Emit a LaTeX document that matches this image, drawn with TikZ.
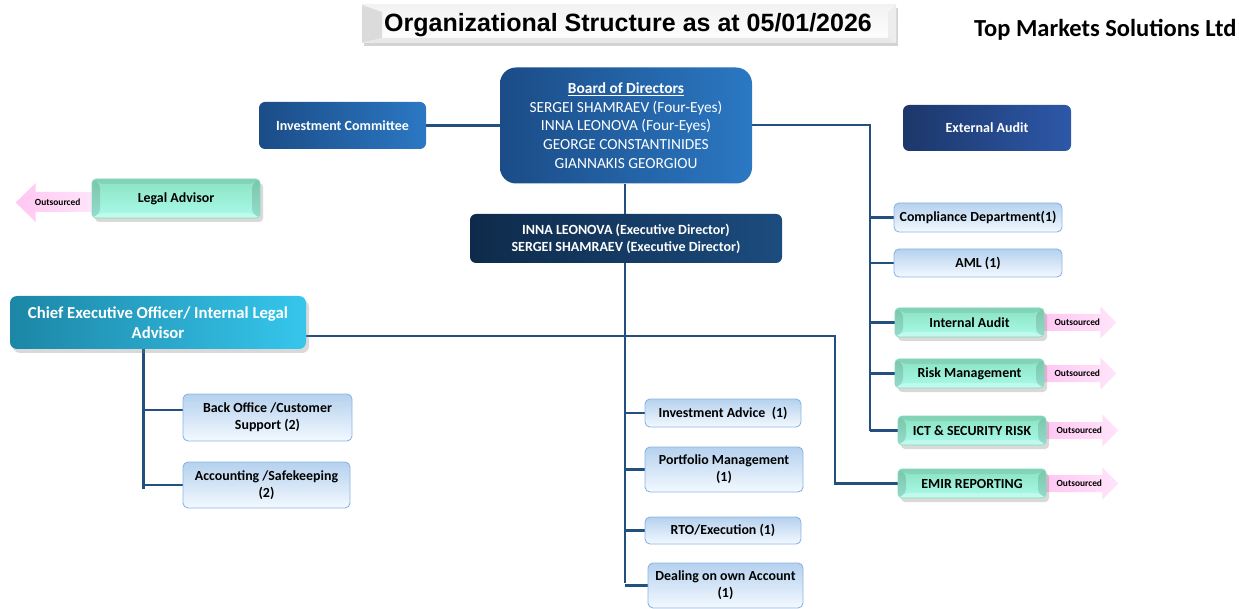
\documentclass[tikz,border=0pt]{standalone}
\usepackage{fontspec}
\setmainfont{Carlito}
\newfontfamily\arialfont{Liberation Sans}
\usetikzlibrary{shadows,calc}
\pgfdeclarelayer{bg}
\pgfsetlayers{bg,main}
\definecolor{linec}{HTML}{24507F}
\definecolor{boardA}{HTML}{1B4C87}
\definecolor{boardB}{HTML}{2B78C3}
\definecolor{extA}{HTML}{1C376A}
\definecolor{extB}{HTML}{2D58A8}
\definecolor{execA}{HTML}{0E2A4A}
\definecolor{execB}{HTML}{1C4C7E}
\definecolor{ceoA}{HTML}{1C86A6}
\definecolor{ceoB}{HTML}{36C6EC}
\definecolor{lightA}{HTML}{B5D1EE}
\definecolor{lightB}{HTML}{F3F9FF}
\definecolor{lightD}{HTML}{8CB4E2}
\definecolor{greenA}{HTML}{8BE2C2}
\definecolor{greenB}{HTML}{AAFBEA}
\definecolor{greenD}{HTML}{86D8BA}
\definecolor{pinkA}{HTML}{FFC6F2}
\definecolor{pinkB}{HTML}{FFE4FA}
\begin{document}
\begin{tikzpicture}[x=1pt,y=-1pt,
  conn/.style={draw=linec,line width=2.5pt},
  darkbox/.style={rounded corners=6pt,text=white,font=\bfseries\fontsize{14}{17}\selectfont,align=center,inner sep=0pt},
  lightbox/.style={rounded corners=5pt,draw=lightD,line width=0.9pt,top color=lightA,bottom color=lightB,
     font=\bfseries\fontsize{13.9}{17}\selectfont,align=center,inner sep=0pt},
  bevel/.style={path picture={
     \coordinate (pNW) at (path picture bounding box.north west);
     \coordinate (pNE) at (path picture bounding box.north east);
     \coordinate (pSW) at (path picture bounding box.south west);
     \coordinate (pSE) at (path picture bounding box.south east);
     \fill[black,opacity=0.07] (pNW) -- (pNE) -- ($(pNE)+(-#1,-5pt)$) -- ($(pNW)+(#1,-5pt)$) -- cycle;
     \fill[black,opacity=0.12] (pNW) -- ($(pNW)+(#1,-5pt)$) -- ($(pSW)+(#1,5pt)$) -- (pSW) -- cycle;
     \fill[black,opacity=0.12] (pNE) -- ($(pNE)+(-#1,-5pt)$) -- ($(pSE)+(-#1,5pt)$) -- (pSE) -- cycle;
     \fill[white,opacity=0.3] (pSW) -- ($(pSW)+(#1,5pt)$) -- ($(pSE)+(-#1,5pt)$) -- (pSE) -- cycle;
  }},
  greenbox/.style={rounded corners=4pt,draw=greenD,line width=0.6pt,top color=greenA,bottom color=greenB,
     font=\bfseries\fontsize{13.9}{16}\selectfont,align=center,inner sep=0pt,bevel=8pt,
     drop shadow={shadow xshift=3pt,shadow yshift=-4pt,opacity=0.3}},
  pinkarrow/.style={left color=pinkA,right color=pinkB},
  outtext/.style={font=\bfseries\fontsize{9.4}{10}\selectfont,inner sep=0pt}]
\useasboundingbox (0,0) rectangle (1239,609);

% title
\node[minimum width=534pt,minimum height=38pt,inner sep=0pt,top color=black!5,bottom color=white,
  drop shadow={shadow xshift=2pt,shadow yshift=-3pt,opacity=0.35},
  path picture={
     \coordinate (tNW) at (path picture bounding box.north west);
     \coordinate (tSW) at (path picture bounding box.south west);
     \coordinate (tNE) at (path picture bounding box.north east);
     \coordinate (tSE) at (path picture bounding box.south east);
     \fill[black!14] (tNW) -- ($(tNW)+(20pt,-7pt)$) -- ($(tSW)+(20pt,5pt)$) -- (tSW) -- cycle;
     \fill[black!7] (tNE) -- ($(tNE)+(-8pt,-7pt)$) -- ($(tSE)+(-8pt,5pt)$) -- (tSE) -- cycle;
     \fill[black!9] (tSW) -- ($(tSW)+(20pt,5pt)$) -- ($(tSE)+(-8pt,5pt)$) -- (tSE) -- cycle;
  }] (title) at (629,24) {};
\node[inner sep=0pt,font=\arialfont\bfseries\fontsize{25}{28}\selectfont] (titletext) at (628,25) {Organizational Structure as at 05/01/2026};
\node[anchor=west,inner sep=0pt,font=\bfseries\fontsize{24.5}{28}\selectfont] (company) at (974,30) {Top Markets Solutions Ltd};

% top row
\node[darkbox,rounded corners=16pt,left color=boardA,right color=boardB,minimum width=252pt,minimum height=116pt,
  font=\fontsize{15.4}{18.6}\selectfont] (board) at (626,125.5)
  {\textbf{\underline{Board of Directors}}\\SERGEI SHAMRAEV (Four-Eyes)\\INNA LEONOVA (Four-Eyes)\\GEORGE CONSTANTINIDES\\GIANNAKIS GEORGIOU};
\node[darkbox,left color=boardA,right color=boardB,minimum width=167pt,minimum height=47pt] (ic) at (342.5,125.5) {Investment Committee};
\node[darkbox,left color=extA,right color=extB,minimum width=168pt,minimum height=46pt] (ext) at (987,128) {External Audit};
\node[darkbox,left color=execA,right color=execB,minimum width=312pt,minimum height=49pt,
  font=\bfseries\fontsize{14}{17}\selectfont] (exec) at (626,238.5)
  {INNA LEONOVA (Executive Director)\\SERGEI SHAMRAEV (Executive Director)};

% legal advisor
\node[greenbox,minimum width=168pt,minimum height=39pt] (legal) at (176,198.5) {Legal Advisor};

% CEO
\node[darkbox,rounded corners=7pt,left color=ceoA,right color=ceoB,minimum width=296pt,minimum height=53pt,
  font=\bfseries\fontsize{16.7}{20}\selectfont,drop shadow={shadow xshift=3pt,shadow yshift=-4pt,opacity=0.3}] (ceo) at (158,322.5)
  {Chief Executive Officer/ Internal Legal\\Advisor};
\node[lightbox,minimum width=169pt,minimum height=47pt] (bo) at (267.5,417.5) {Back Office /Customer\\Support (2)};
\node[lightbox,minimum width=167pt,minimum height=46pt] (acc) at (266.5,485) {Accounting /Safekeeping\\(2)};

% middle column
\node[lightbox,minimum width=156pt,minimum height=28pt] (ia) at (723,413) {Investment Advice\ \ (1)};
\node[lightbox,minimum width=158pt,minimum height=45pt] (pm) at (724,469.5) {Portfolio Management\\(1)};
\node[lightbox,minimum width=156pt,minimum height=27pt] (rto) at (723,530.5) {RTO/Execution (1)};
\node[lightbox,minimum width=155pt,minimum height=45pt] (doa) at (725.5,585.5) {Dealing on own Account\\(1)};

% right column
\node[lightbox,minimum width=168pt,minimum height=29pt] (comp) at (978,217.5) {Compliance Department(1)};
\node[lightbox,minimum width=168pt,minimum height=28pt] (aml) at (978,263) {AML (1)};
\node[greenbox,minimum width=149pt,minimum height=29pt] (iaud) at (969.5,322.5) {Internal Audit};
\node[greenbox,minimum width=149pt,minimum height=29pt] (risk) at (969.5,373.5) {Risk Management};
\node[greenbox,minimum width=148pt,minimum height=29pt] (ict) at (972,430.5) {ICT \& SECURITY RISK};
\node[greenbox,minimum width=148pt,minimum height=29pt] (emir) at (972,483.5) {EMIR REPORTING};

% outsourced arrows
\begin{pgfonlayer}{bg}
\path[pinkarrow] ($(legal.west)+(0,-6.5)$) -- ++(-56,0) -- ++(0,-9) -- ++(-20,19.5) -- ++(20,19.5) -- ++(0,-10) -- ++(56,0) -- cycle;
\foreach \n in {iaud,risk,ict,emir}{
  \path[pinkarrow] ($(\n.east)+(-4,-8.5)$) -- ++(60,0) -- ++(0,-7.5) -- ++(16,16) -- ++(-16,16) -- ++(0,-7.5) -- ++(-60,0) -- cycle;
}
\end{pgfonlayer}
\node[outtext] (outlegal) at ($(legal.west)+(-34,3.5)$) {Outsourced};
\foreach \n in {iaud,risk,ict,emir}{
  \node[outtext] (out\n) at ($(\n.east)+(33,0)$) {Outsourced};
}

% connectors
\begin{pgfonlayer}{bg}
\coordinate (rtrunk) at (870,125);
\coordinate (rtrunkend) at (870,431);
\coordinate (mtrunkend) at (625,583);
\coordinate (ctrunk) at (143.5,349);
\coordinate (ctrunkend) at (143.5,489);
\coordinate (emirturn) at (835,336);
\draw[conn] (ic.east) -- (ic.east -| board.west);
\draw[conn] (board.south -| mtrunkend) -- (exec.north -| mtrunkend);
\draw[conn] (exec.south -| mtrunkend) -- (mtrunkend);
\foreach \n in {ia,pm,rto,doa}{ \draw[conn] (mtrunkend |- \n.west) -- (\n.west); }
\draw[conn] (rtrunk -| board.east) -- (rtrunk) -- (rtrunkend);
\foreach \n in {comp,aml,iaud,risk,ict}{ \draw[conn] (rtrunk |- \n.west) -- (\n.west); }
\draw[conn] (ceo.east |- emirturn) -- (emirturn) -- (emirturn |- emir.west) -- (emir.west);
\draw[conn] (ctrunk) -- (ctrunkend);
\draw[conn] (ctrunk |- 0,410) -- (bo.west |- 0,410);
\draw[conn] (ctrunk |- acc.west) -- (acc.west);
\end{pgfonlayer}
\end{tikzpicture}
\end{document}
